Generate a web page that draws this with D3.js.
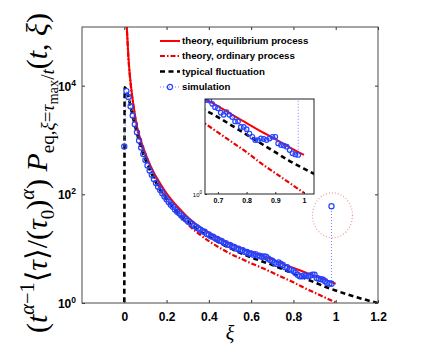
<!DOCTYPE html>
<meta charset="utf-8">
<style>
body { margin: 0; background: #fff; }
.axis text { font: bold 12px "Liberation Sans", Arial, sans-serif; fill: #000; }
.inset .axis text { font: bold 7px "Liberation Sans", Arial, sans-serif; }
.axis line { stroke: #333; }
.legend text { font: bold 9.7px "Liberation Sans", Arial, sans-serif; fill: #000; }
.serif { font-family: "Liberation Serif", "DejaVu Serif", serif; }
</style>
<svg width="436" height="354"></svg>
<script src="https://cdn.jsdelivr.net/npm/d3@7"></script>
<script>

// theory curves (stored as log10 of the y value)
var xiTheory = [0.008, 0.012, 0.02, 0.03, 0.045, 0.06, 0.08, 0.107, 0.14, 0.17, 0.2, 0.25, 0.3, 0.35,
                0.4, 0.45, 0.5, 0.55, 0.6, 0.65, 0.7, 0.75, 0.8, 0.85, 0.9, 0.95, 1.0];
var eqLog10 = [5.4, 5.07, 4.5, 4.05, 3.6, 3.25, 2.97, 2.68, 2.40, 2.20, 2.02, 1.78, 1.58, 1.42,
               1.29, 1.18, 1.09, 1.01, 0.94, 0.87, 0.80, 0.72, 0.645, 0.57, 0.50, 0.425, 0.355];
var ordLog10 = [5.4, 5.06, 4.48, 4.03, 3.58, 3.22, 2.93, 2.63, 2.33, 2.11, 1.92, 1.66, 1.45, 1.28,
                1.14, 1.02, 0.91, 0.82, 0.73, 0.65, 0.56, 0.47, 0.38, 0.28, 0.19, 0.10, 0.01];

// typical fluctuation
var xiTypical = [0, 0.002, 0.01, 0.02, 0.03, 0.045, 0.06, 0.08, 0.107, 0.14, 0.17, 0.2, 0.25, 0.3,
                 0.35, 0.4, 0.45, 0.5, 0.55, 0.6, 0.65, 0.7, 0.75, 0.8, 0.85, 0.9, 0.95, 1.0,
                 1.05, 1.1, 1.15, 1.2];
var typicalLog10 = [-0.3, 3.97, 3.93, 3.79, 3.61, 3.35, 3.12, 2.85, 2.57, 2.29, 2.08, 1.91, 1.68, 1.50,
                    1.35, 1.22, 1.11, 1.01, 0.92, 0.84, 0.77, 0.70, 0.62, 0.54, 0.46, 0.38, 0.30, 0.23,
                    0.165, 0.105, 0.05, 0.0];

// simulation
var xiSim = [0, 0.01, 0.02, 0.03, 0.04, 0.05, 0.06, 0.07, 0.08, 0.09,
             0.1, 0.11, 0.12, 0.13, 0.14, 0.15, 0.16, 0.17, 0.18, 0.19,
             0.2, 0.21, 0.22, 0.23, 0.24, 0.25, 0.26, 0.27, 0.28, 0.29,
             0.3, 0.31, 0.32, 0.33, 0.34, 0.35, 0.36, 0.37, 0.38, 0.39,
             0.4, 0.41, 0.42, 0.43, 0.44, 0.45, 0.46, 0.47, 0.48, 0.49,
             0.5, 0.51, 0.52, 0.53, 0.54, 0.55, 0.56, 0.57, 0.58, 0.59,
             0.6, 0.61, 0.62, 0.63, 0.64, 0.65, 0.66, 0.67, 0.68, 0.69,
             0.7, 0.71, 0.72, 0.73, 0.74, 0.75, 0.76, 0.77, 0.78, 0.79,
             0.8, 0.81, 0.82, 0.83, 0.84, 0.85, 0.86, 0.87, 0.88, 0.89,
             0.9, 0.91, 0.92, 0.93, 0.94, 0.95, 0.96, 0.97, 0.98, 0.98];
var simLog10 = [2.88, 3.90, 3.79, 3.62, 3.45, 3.29, 3.14, 2.99, 2.86, 2.74,
                2.63, 2.53, 2.44, 2.36, 2.28, 2.21, 2.14, 2.08, 2.02, 1.96,
                1.91, 1.86, 1.81, 1.77, 1.72, 1.68, 1.65, 1.61, 1.57, 1.55,
                1.51, 1.48, 1.46, 1.42, 1.40, 1.37, 1.35, 1.32, 1.31, 1.27,
                1.26, 1.23, 1.22, 1.19, 1.18, 1.15, 1.14, 1.11, 1.10, 1.07,
                1.07, 1.04, 1.03, 1.00, 1.00, 0.97, 0.97, 0.94, 0.94, 0.91,
                0.91, 0.89, 0.90, 0.87, 0.87, 0.85, 0.855, 0.85, 0.82, 0.79,
                0.78, 0.74, 0.72, 0.745, 0.72, 0.70, 0.66, 0.66, 0.61, 0.61,
                0.59, 0.55, 0.52, 0.49, 0.49, 0.505, 0.50, 0.49, 0.505, 0.52,
                0.52, 0.46, 0.445, 0.44, 0.43, 0.40, 0.37, 0.36, 0.355, 1.78];

var xTicks = [0, 0.2, 0.4, 0.6, 0.8, 1, 1.2];
var yTicks = [1, 100, 10000];
var insetXTicks = [0.7, 0.8, 0.9, 1];
var legendLabels = ["theory, equilibrium process", "theory, ordinary process",
                    "typical fluctuation", "simulation"];

function pairs(xs, logs) {
  return xs.map(function(d, i) { return [d, Math.pow(10, logs[i])]; });
}
var eqData = pairs(xiTheory, eqLog10),
    ordData = pairs(xiTheory, ordLog10),
    typData = pairs(xiTypical, typicalLog10),
    simData = pairs(xiSim, simLog10);

var styles = {
  eq:  {stroke: "#ff0000", width: 2, dash: null},
  ord: {stroke: "#ee0000", width: 2.2, dash: "5,2,1.5,2"},
  typ: {stroke: "#000", width: 2.6, dash: "5,3.5"},
  sim: {stroke: "#6f80ff", width: 1, dash: "1,2"}
};

var svg = d3.select("svg"),
    margin = {top: 27, right: 58, bottom: 51, left: 82},
    width = 436 - margin.left - margin.right,
    height = 354 - margin.top - margin.bottom,
    g = svg.append("g").attr("transform", "translate(" + margin.left + "," + margin.top + ")");

var x = d3.scaleLinear().domain([-0.2, 1.2]).range([0, width]),
    y = d3.scaleLog().domain([1, 1.2e5]).range([height, 0]);

svg.append("clipPath").attr("id", "clipMain")
  .append("rect").attr("width", width).attr("height", height);

function drawSeries(parent, xs, ys, r) {
  var smooth = d3.line().curve(d3.curveMonotoneX)
        .x(function(d) { return xs(d[0]); }).y(function(d) { return ys(d[1]); }),
      straight = d3.line()
        .x(function(d) { return xs(d[0]); }).y(function(d) { return ys(d[1]); });

  [["eq", eqData], ["ord", ordData], ["typ", typData]].forEach(function(s) {
    var st = styles[s[0]];
    parent.append("path")
        .attr("d", smooth(s[1]))
        .attr("fill", "none")
        .attr("stroke", st.stroke)
        .attr("stroke-width", st.width)
        .attr("stroke-dasharray", st.dash);
  });

  parent.append("path")
      .attr("d", straight(simData))
      .attr("fill", "none")
      .attr("stroke", styles.sim.stroke)
      .attr("stroke-width", styles.sim.width)
      .attr("stroke-dasharray", styles.sim.dash);

  parent.selectAll(".pt")
    .data(simData)
    .enter().append("circle")
      .attr("cx", function(d) { return xs(d[0]); })
      .attr("cy", function(d) { return ys(d[1]); })
      .attr("r", r)
      .attr("fill", "none")
      .attr("stroke", "#2443ff")
      .attr("stroke-width", 1.2);
}

var plot = g.append("g").attr("clip-path", "url(#clipMain)");
drawSeries(plot, x, y, 2.6);

// dotted ring around the last simulation point
var last = simData[simData.length - 1];
g.append("ellipse")
    .attr("cx", x(last[0]) + 1)
    .attr("cy", y(last[1]) + 9)
    .attr("rx", 20)
    .attr("ry", 22.5)
    .attr("fill", "none")
    .attr("stroke", "#f49a9a")
    .attr("stroke-width", 1.2)
    .attr("stroke-dasharray", "1,2");

// axes (ticks point inward)
g.append("g")
    .attr("class", "axis")
    .attr("transform", "translate(0," + height + ")")
    .call(d3.axisBottom(x).tickValues(xTicks).tickSizeInner(-3).tickSizeOuter(0)
      .tickPadding(9).tickFormat(d3.format("~g")));
g.append("g")
    .attr("class", "axis")
    .call(d3.axisTop(x).tickValues(xTicks).tickSizeInner(-3).tickSizeOuter(0).tickFormat(""));
var yAxis = g.append("g")
    .attr("class", "axis")
    .call(d3.axisLeft(y).tickValues(yTicks).tickSizeInner(-3).tickSizeOuter(0).tickPadding(6));
g.append("g")
    .attr("class", "axis")
    .attr("transform", "translate(" + width + ",0)")
    .call(d3.axisRight(y).tickValues(yTicks).tickSizeInner(-3).tickSizeOuter(0).tickFormat(""));
g.selectAll(".axis .domain").remove();

yAxis.selectAll(".tick text").each(function(d) {
  var t = d3.select(this).attr("dy", null).attr("y", 4.5).text("10");
  t.append("tspan").attr("dy", -5).style("font-size", "8.5px")
    .text(Math.round(Math.log10(d)));
});

g.append("rect")
    .attr("width", width).attr("height", height)
    .attr("fill", "none").attr("stroke", "#4a4a4a").attr("stroke-width", 1);

// legend
var legend = g.append("g").attr("class", "legend").attr("transform", "translate(78,14)");
var rowY = [0, 15, 30.5, 46];
["eq", "ord", "typ", "sim"].forEach(function(k, i) {
  var st = styles[k], row = legend.append("g").attr("transform", "translate(0," + rowY[i] + ")");
  row.append("line").attr("x1", 0).attr("x2", 20)
      .attr("stroke", st.stroke).attr("stroke-width", st.width)
      .attr("stroke-dasharray", st.dash);
  if (k === "sim") {
    row.append("circle").attr("cx", 10).attr("r", 2.6)
        .attr("fill", "none").attr("stroke", "#2443ff").attr("stroke-width", 1.2);
  }
  row.append("text").attr("x", 22).attr("dy", "0.35em").text(legendLabels[i]);
});

// inset
var inset = {left: 205, top: 99, width: 109, height: 95};
var ix = d3.scaleLinear().domain([0.655, 1.035]).range([0, inset.width]),
    iy = d3.scaleLog().domain([1, Math.pow(10, 0.864)]).range([inset.height, 0]);
var ig = svg.append("g").attr("class", "inset")
    .attr("transform", "translate(" + inset.left + "," + inset.top + ")");
ig.append("rect").attr("width", inset.width).attr("height", inset.height).attr("fill", "#fff");
svg.append("clipPath").attr("id", "clipInset")
  .append("rect").attr("width", inset.width).attr("height", inset.height);
drawSeries(ig.append("g").attr("clip-path", "url(#clipInset)"), ix, iy, 2.3);

ig.append("g")
    .attr("class", "axis")
    .attr("transform", "translate(0," + inset.height + ")")
    .call(d3.axisBottom(ix).tickValues(insetXTicks).tickSizeInner(-2).tickSizeOuter(0)
      .tickPadding(4).tickFormat(d3.format("~g")));
var iyAxis = ig.append("g")
    .attr("class", "axis")
    .call(d3.axisLeft(iy).tickValues([1]).tickSizeInner(-2).tickSizeOuter(0).tickPadding(3));
ig.selectAll(".domain").remove();
iyAxis.selectAll(".tick text").attr("dy", null).attr("y", 2).style("font-weight", "normal")
    .style("font-size", "6px")
    .text("10").append("tspan").attr("dy", -3).style("font-size", "4.5px").text("0");
ig.append("rect")
    .attr("width", inset.width).attr("height", inset.height)
    .attr("fill", "none").attr("stroke", "#222").attr("stroke-width", 1);

// axis labels
svg.append("text")
    .attr("class", "serif")
    .attr("x", margin.left + width / 2)
    .attr("y", 340)
    .attr("text-anchor", "middle")
    .style("font-size", "20px")
    .style("font-style", "italic")
    .text("ξ");

// y label built from pieces: [text, italic, level] ; level 0 = base, 1 = sup, -1 = sub, -2 = subsub
var ySegments = [
  ["(", 0, 0], ["t", 1, 0], ["α", 1, 1], ["−1", 0, 1], ["⟨", 0, 0], ["τ", 1, 0], ["⟩/(", 0, 0],
  ["τ", 1, 0], ["0", 0, -1], [")", 0, 0], ["α", 1, 1], [")", 0, 0], [" ", 0, 0], ["P", 1, 0],
  ["eq,", 0, -1], ["ξ", 1, -1], ["=", 0, -1], ["τ", 1, -1], ["max", 0, -2], ["/", 0, -1],
  ["t", 1, -1], ["(", 0, 0], ["t", 1, 0], [", ", 0, 0], ["ξ", 1, 0], [")", 0, 0]
];
var levelShift = {0: 0, 1: -0.42, "-1": 0.24, "-2": 0.38},
    levelSize = {0: 1, 1: 0.68, "-1": 0.64, "-2": 0.48};

var ylab = svg.append("text")
    .attr("class", "serif")
    .attr("transform", "translate(47,333) rotate(-90)");

function buildLabel(fs) {
  ylab.selectAll("*").remove();
  ylab.style("font-size", fs + "px");
  var cur = 0;
  ySegments.forEach(function(s) {
    var shift = levelShift[s[2]] * fs;
    ylab.append("tspan")
        .attr("dy", shift - cur)
        .style("font-style", s[1] ? "italic" : "normal")
        .style("font-size", (levelSize[s[2]] * fs) + "px")
        .text(s[0]);
    cur = shift;
  });
}
buildLabel(24);
var len = ylab.node().getComputedTextLength();
buildLabel(24 * 320 / len);

</script>
